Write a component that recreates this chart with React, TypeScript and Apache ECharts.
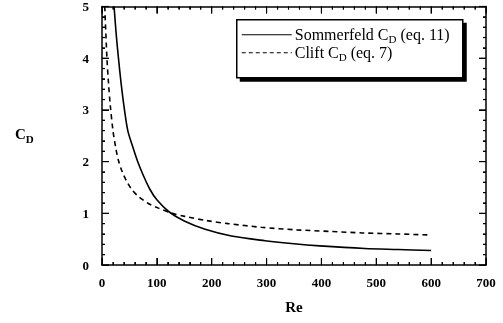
import React, { useEffect, useRef } from "react";
import * as echarts from "echarts";

const reSommerfeld = [22, 26, 30, 35, 41, 47, 55, 65, 75, 87, 100, 122, 150, 188, 236, 297, 350, 397, 479, 540, 600];
const cdSommerfeld = [5, 4.45, 4, 3.5, 3, 2.6, 2.32, 2, 1.74, 1.47, 1.26, 1.03, 0.85, 0.69, 0.56, 0.47, 0.41, 0.37, 0.32, 0.3, 0.28];
const reClift = [5, 9, 12, 15, 20, 25, 30, 37, 45, 55, 67, 83, 103, 125, 151, 190, 230, 290, 355, 415, 475, 540, 600];
const cdClift = [5, 4, 3.5, 3.1, 2.6, 2.27, 2.02, 1.8, 1.62, 1.45, 1.32, 1.2, 1.1, 1.01, 0.94, 0.86, 0.8, 0.73, 0.68, 0.65, 0.62, 0.6, 0.58];
const xRange = [0, 700];
const yRange = [0, 5];
const xMajorTicks = [0, 100, 200, 300, 400, 500, 600, 700];
const yMajorTicks = [0, 1, 2, 3, 4, 5];
const minorPerMajor = 5;
const legendNames = ["Sommerfeld C", "Clift C"];
const legendSuffix = [" (eq. 11)", " (eq. 7)"];

const FONT = "'Liberation Serif', 'Times New Roman', serif";

function minorTicks(major: number[]): number[] {
  const out: number[] = [];
  for (let i = 0; i < major.length - 1; i++) {
    const step = (major[i + 1] - major[i]) / minorPerMajor;
    for (let k = 1; k < minorPerMajor; k++) out.push(+(major[i] + k * step).toFixed(6));
  }
  return out;
}

export default function App() {
  const ref = useRef<HTMLDivElement>(null);
  useEffect(() => {
    if (!ref.current) return;
    const chart = echarts.init(ref.current, null, { renderer: "svg" });
    const labelStyle = (show: boolean, margin: number) => ({
      show,
      margin,
      color: "#000",
      fontFamily: FONT,
      fontWeight: "bold",
      fontSize: 13,
    });
    const axis = (position: string, range: number[], interval: number, showLabel: boolean, margin: number) => ({
      type: "value",
      position,
      min: range[0],
      max: range[1],
      interval,
      axisLine: { show: true, onZero: false, lineStyle: { color: "#000", width: 1.5 } },
      axisTick: { show: true, inside: true, length: 7, lineStyle: { color: "#000" } },
      minorTick: { show: true, splitNumber: minorPerMajor, length: 3, lineStyle: { color: "#000" } },
      splitLine: { show: false },
      axisLabel: labelStyle(showLabel, margin),
    });
    const tickLine = (x1: number, y1: number, x2: number, y2: number) => ({
      type: "line",
      shape: { x1, y1, x2, y2 },
      style: { stroke: "#000", lineWidth: 1.2 },
    });
    const xTickSeries = (ticks: number[], len: number) => ({
      type: "custom",
      coordinateSystem: "cartesian2d",
      xAxisIndex: 0,
      yAxisIndex: 0,
      silent: true,
      clip: false,
      z: 10,
      data: ticks.map((t) => [t, yRange[0]]),
      renderItem: (_p: any, api: any) => {
        const v = api.value(0);
        const b = api.coord([v, yRange[0]]);
        const t = api.coord([v, yRange[1]]);
        return {
          type: "group",
          children: [tickLine(b[0], b[1], b[0], b[1] - len), tickLine(t[0], t[1], t[0], t[1] + len)],
        };
      },
    });
    const yTickSeries = (ticks: number[], len: number) => ({
      type: "custom",
      coordinateSystem: "cartesian2d",
      xAxisIndex: 0,
      yAxisIndex: 0,
      silent: true,
      clip: false,
      z: 10,
      data: ticks.map((t) => [xRange[0], t]),
      renderItem: (_p: any, api: any) => {
        const v = api.value(1);
        const l = api.coord([xRange[0], v]);
        const r = api.coord([xRange[1], v]);
        return {
          type: "group",
          children: [tickLine(l[0], l[1], l[0] + len, l[1]), tickLine(r[0], r[1], r[0] - len, r[1])],
        };
      },
    });
    const richStyles = {
      a: { fontFamily: FONT, fontSize: 16, color: "#000", lineHeight: 15, verticalAlign: "top" },
      s: { fontFamily: FONT, fontSize: 11, color: "#000", lineHeight: 11, verticalAlign: "top", padding: [7, 0, 0, 0] },
      ab: { fontFamily: FONT, fontSize: 15, fontWeight: "bold", color: "#000", lineHeight: 15, verticalAlign: "top" },
      sb: { fontFamily: FONT, fontSize: 11, fontWeight: "bold", color: "#000", lineHeight: 11, verticalAlign: "top", padding: [7, 0, 0, 0] },
    };
    chart.setOption({
      animation: false,
      grid: { left: 102, right: 17, top: 5, bottom: 58 },
      xAxis: [
        {
          ...axis("bottom", xRange, 100, true, 11),
          name: "Re",
          nameLocation: "middle",
          nameGap: 34,
          nameTextStyle: { fontFamily: FONT, fontWeight: "bold", fontSize: 15, color: "#000" },
        },
        axis("top", xRange, 100, false, 8),
      ],
      yAxis: [axis("left", yRange, 1, true, 13), axis("right", yRange, 1, false, 8)],
      series: [
        {
          type: "line",
          data: reSommerfeld.map((r, i) => [r, cdSommerfeld[i]]),
          showSymbol: false,
          smooth: 0.3,
          lineStyle: { color: "#000", width: 1.6, type: "solid" },
          xAxisIndex: 0,
          yAxisIndex: 0,
        },
        {
          type: "line",
          data: reClift.map((r, i) => [r, cdClift[i]]),
          showSymbol: false,
          smooth: 0.3,
          lineStyle: { color: "#000", width: 1.6, type: [5, 4] },
          xAxisIndex: 0,
          yAxisIndex: 0,
        },
        xTickSeries(xMajorTicks, 7),
        xTickSeries(minorTicks(xMajorTicks), 3),
        yTickSeries(yMajorTicks, 7),
        yTickSeries(minorTicks(yMajorTicks), 3),
      ],
      graphic: [
        {
          type: "text",
          left: 15,
          top: 126,
          style: { text: "{ab|C}{sb|D}", rich: richStyles },
        },
        {
          type: "group",
          left: 236,
          top: 19,
          children: [
            { type: "rect", shape: { x: 3, y: 3, width: 227, height: 59 }, style: { fill: "#000" } },
            { type: "rect", shape: { x: 0, y: 0, width: 226, height: 58 }, style: { fill: "#fff", stroke: "#000", lineWidth: 1.5 } },
            { type: "line", shape: { x1: 5, y1: 15, x2: 55, y2: 15 }, style: { stroke: "#000", lineWidth: 1 } },
            { type: "line", shape: { x1: 5, y1: 33, x2: 55, y2: 33 }, style: { stroke: "#000", lineWidth: 1, lineDash: [4, 3] } },
            {
              type: "text",
              x: 58,
              y: 7,
              style: { text: `{a|${legendNames[0]}}{s|D}{a|${legendSuffix[0]}}`, rich: richStyles },
            },
            {
              type: "text",
              x: 58,
              y: 25,
              style: { text: `{a|${legendNames[1]}}{s|D}{a|${legendSuffix[1]}}`, rich: richStyles },
            },
          ],
        },
      ],
    });
    return () => chart.dispose();
  }, []);
  return <div ref={ref} style={{ position: "fixed", left: 0, top: 0, width: 503, height: 323 }} />;
}
